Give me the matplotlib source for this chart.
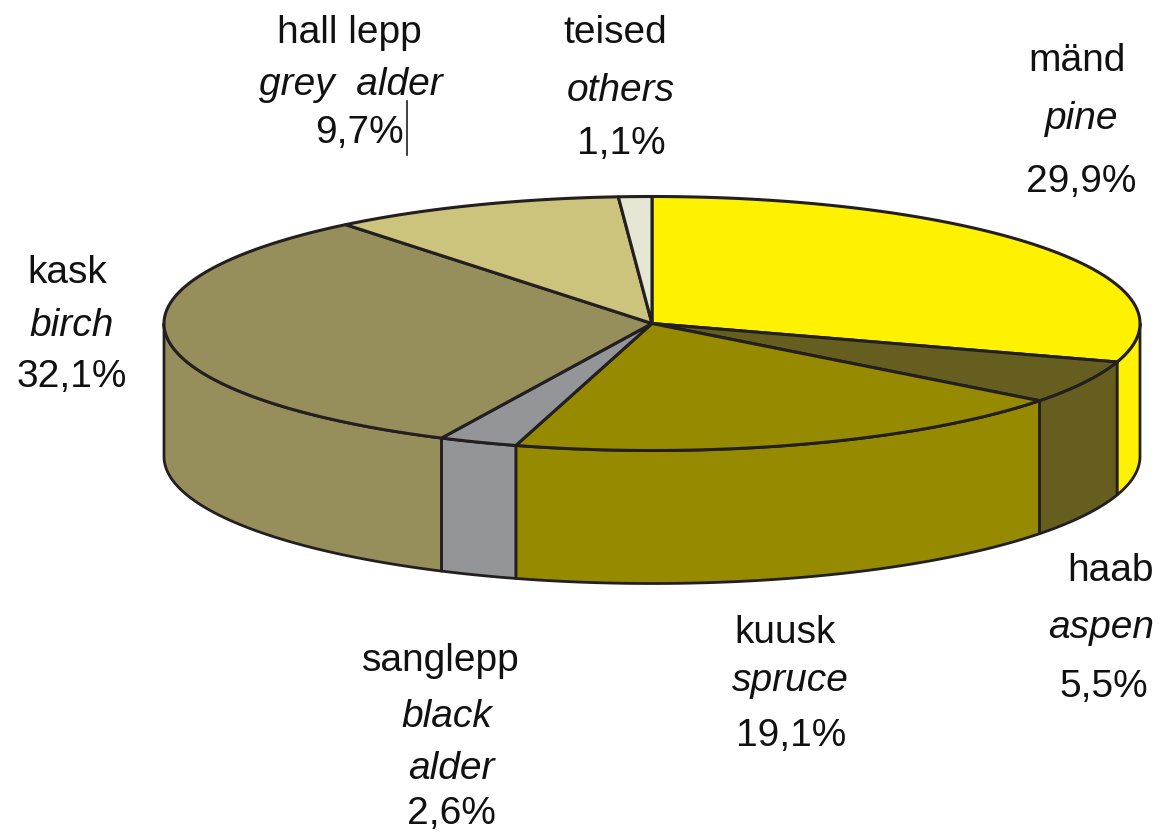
import matplotlib
matplotlib.use('Agg')
import matplotlib.pyplot as plt
from matplotlib.patches import Polygon
import numpy as np

plt.rcParams['font.family'] = ['Liberation Sans', 'DejaVu Sans']

# clockwise from 12 o'clock
names_et = ['mänd', 'haab', 'kuusk', 'sanglepp', 'kask', 'hall lepp', 'teised']
names_en = [['pine'], ['aspen'], ['spruce'], ['black', 'alder'], ['birch'], ['grey  alder'], ['others']]
shares = [29.9, 5.5, 19.1, 2.6, 32.1, 9.7, 1.1]
share_text = ['29,9%', '5,5%', '19,1%', '2,6%', '32,1%', '9,7%', '1,1%']
colors = ['#fff200', '#665e1e', '#968a00', '#939598', '#968f5c', '#ccc47c', '#e6e6d4']

# pie geometry, in image pixels
cx, cy = 652, 323.5
rx, ry = 488, 127
depth = 133
edge = '#231f20'

fig = plt.figure(figsize=(11.61, 8.34), dpi=100)
ax = fig.add_axes([0, 0, 1, 1])
ax.set_xlim(0, 1161)
ax.set_ylim(834, 0)
ax.axis('off')


def rim(a, b):
    # a, b are angles in degrees, clockwise from the top
    t = np.radians(np.linspace(a, b, max(int(abs(b - a)) * 2, 2)))
    return cx + rx * np.sin(t), cy - ry * np.cos(t)


bounds = np.concatenate([[0], np.cumsum(shares)]) / sum(shares) * 360

# outer wall, only the front half (90 to 270 deg) shows
for i in range(len(shares)):
    a = max(bounds[i], 90)
    b = min(bounds[i + 1], 270)
    if a >= b:
        continue
    x, y = rim(a, b)
    px = np.concatenate([x, x[::-1]])
    py = np.concatenate([y, y[::-1] + depth])
    ax.add_patch(Polygon(np.column_stack([px, py]), closed=True, fc=colors[i],
                         ec=edge, lw=2, joinstyle='round', zorder=2))

# top face
for i in range(len(shares)):
    x, y = rim(bounds[i], bounds[i + 1])
    px = np.concatenate([[cx], x])
    py = np.concatenate([[cy], y])
    ax.add_patch(Polygon(np.column_stack([px, py]), closed=True, fc=colors[i],
                         ec=edge, lw=2.2, joinstyle='round', zorder=3))

# label lines placed one by one, (x centre, y centre)
fs = 28
label_pos = [
    [(1077, 61), (1082, 119), (1081, 182)],
    [(1110, 571), (1101, 628), (1104, 687)],
    [(785, 633), (790, 681), (791, 736)],
    [(441, 661), (447, 717), (451, 769), (451, 814)],
    [(67, 273), (72, 326), (72, 377)],
    [(349, 33), (351, 85), (359, 133)],
    [(615, 33), (621, 91), (621, 144)],
]
for i in range(len(shares)):
    pos = label_pos[i]
    ax.text(pos[0][0], pos[0][1], names_et[i], ha='center', va='center',
            fontsize=fs, color='#111111')
    for part, p in zip(names_en[i], pos[1:-1]):
        ax.text(p[0], p[1], part, ha='center', va='center', fontsize=fs,
                style='italic', color='#111111')
    ax.text(pos[-1][0], pos[-1][1], share_text[i], ha='center', va='center',
            fontsize=fs, color='#111111')

# small leader mark next to the grey alder label
ax.plot([407, 407], [101, 155], color=edge, lw=1.2, zorder=4)

fig.savefig('out.png', dpi=100)
